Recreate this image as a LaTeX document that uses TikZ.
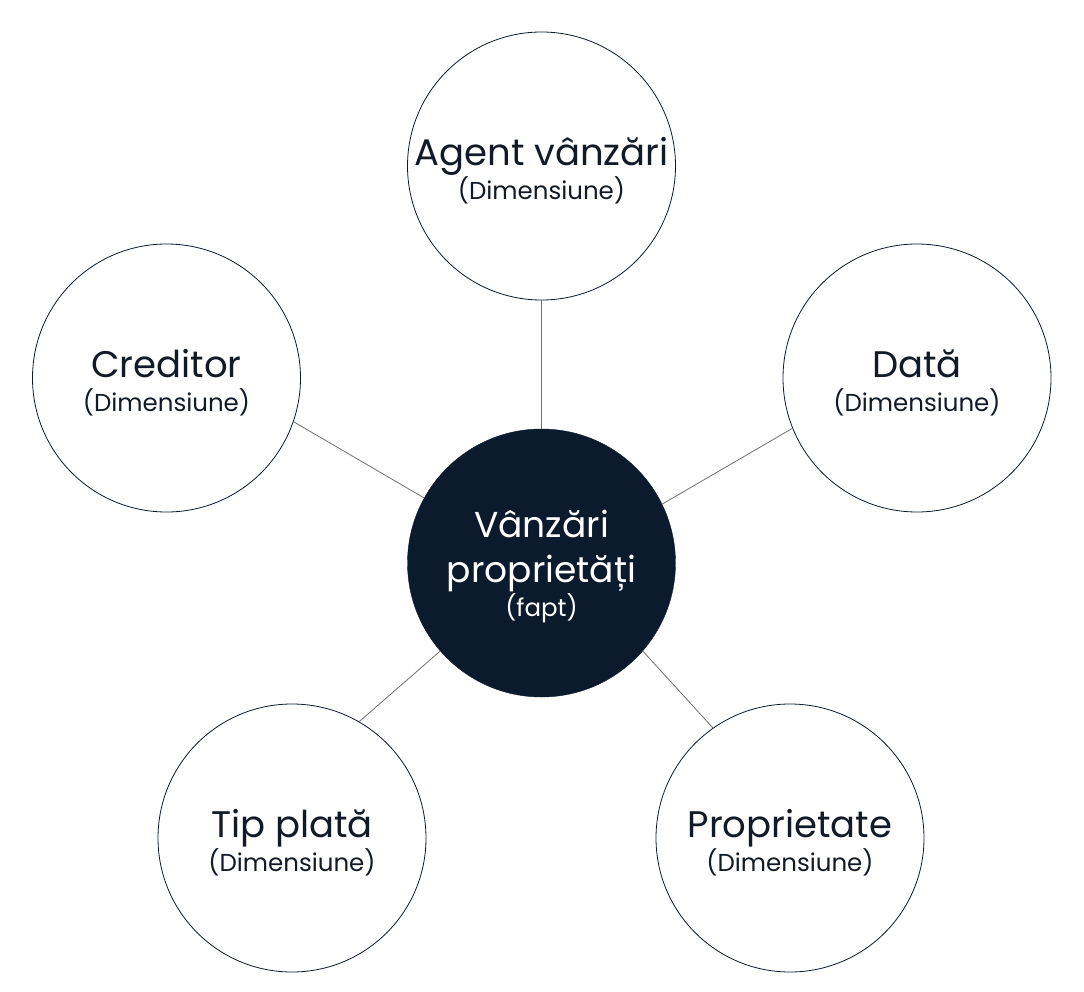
\documentclass[tikz,border=0pt]{standalone}
\usepackage{fontspec}
\setmainfont{Poppins}
\definecolor{navy}{HTML}{0B1B2D}
\definecolor{ink}{HTML}{111A26}
\definecolor{wire}{HTML}{707070}
\begin{document}
\begin{tikzpicture}[x=1pt,y=-1pt,
  fapt/.style={circle,draw=navy,fill=navy,minimum size=2*\krad pt,inner sep=0pt},
  dim/.style={circle,draw=navy,line width=0.8pt,fill=white,minimum size=2*\krad pt,inner sep=0pt},
  title/.style={align=center,inner sep=0pt,font=\fontsize{37}{34}\selectfont},
  leg/.style={draw=wire,line width=0.8pt}]
\pgfmathsetmacro{\krad}{134}
\useasboundingbox (0,0) rectangle (1084,992);
\node[fapt] (fapt) at (541.5,563) {};
\node[title,text=white,font=\fontsize{36}{34}\selectfont] (fapt-text) at ([yshift=-3pt]fapt.center) {Vânzări\\[11pt]proprietăți\\{\fontsize{24.5}{30}\selectfont (fapt)}};
\foreach \n/\x/\y/\t/\a/\b in {agent/541.5/166/{Agent vânzări}/90/-90,creditor/166.5/378/Creditor/151.6/-19.2,data/917/378/Dată/26.7/-158.6,plata/292/838/{Tip plată}/221.2/60.2,proprietate/790/838/Proprietate/-41.5/125.1}{
  \node[dim] (\n) at (\x,\y) {};
  \node[title,text=ink] (\n-text) at ([yshift=-5pt]\n.center) {\t\\{\fontsize{24.5}{30}\selectfont (Dimensiune)}};
  \draw[leg] (fapt.\a) -- (\n.\b);
}
\end{tikzpicture}
\end{document}
